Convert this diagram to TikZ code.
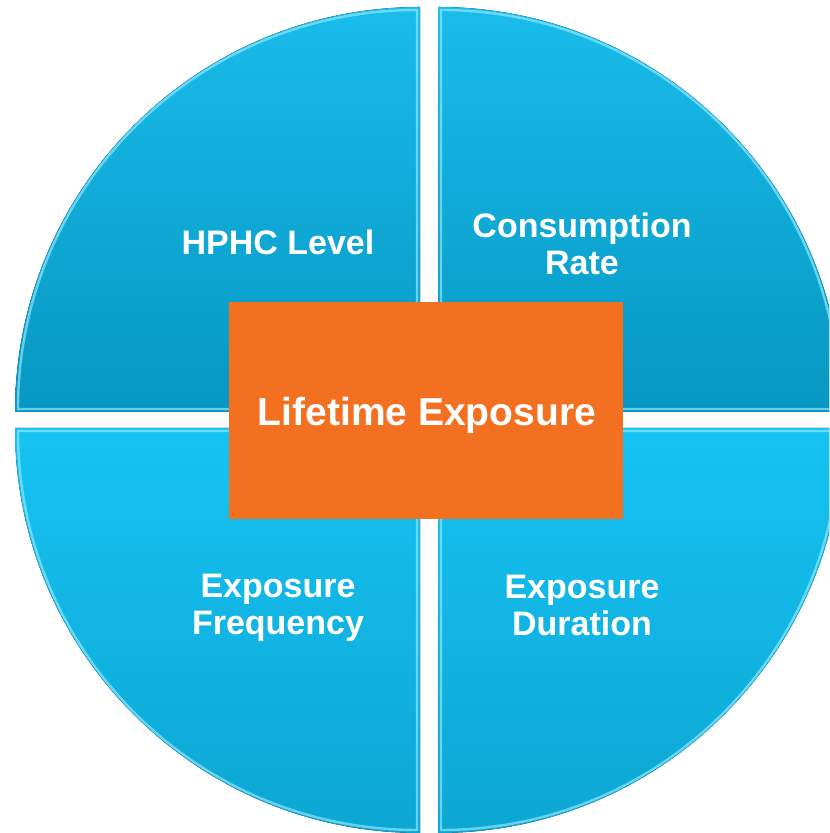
\documentclass[tikz,border=0pt]{standalone}
\usepackage{fontspec}
\setmainfont{Liberation Sans}
\usepackage{tikz}
\usetikzlibrary{shapes}
\usetikzlibrary{backgrounds}

\definecolor{quadtop}{HTML}{19BCEB}
\definecolor{quadbot}{HTML}{0797C2}
\definecolor{lowtop}{HTML}{15C3F3}
\definecolor{lowbot}{HTML}{0DA6D2}
\definecolor{rim}{HTML}{8EE8FB}
\definecolor{lifeorange}{HTML}{F37021}

\tikzset{
  upperquad/.style={top color=quadtop, bottom color=quadbot, draw=none},
  lowerquad/.style={top color=lowtop, bottom color=lowbot, draw=none},
  bevel/.style={draw=rim, line width=1.2pt, opacity=0.7},
  quadlabel/.style={text=white, font=\bfseries\fontsize{17}{18.5}\selectfont, align=center},
  centrebox/.style={fill=lifeorange, minimum width=197pt, minimum height=108.5pt, inner sep=0pt}
}

\begin{document}
\begin{tikzpicture}[x=0.5pt,y=0.5pt]
\useasboundingbox (0,0) rectangle (829,833);
\clip (0,0) rectangle (829,833);
\fill[white] (0,0) rectangle (829,833);

\begin{scope}
\fill[upperquad] (420,421) -- (15,421) arc (180:90:405) -- cycle;
\draw[bevel] (417,424) -- (18,424) arc (180:90:399) -- cycle;
\fill[upperquad] (438,421) -- (438,826) arc (90:0:405) -- cycle;
\draw[bevel] (441,424) -- (441,823) arc (90:0:399) -- cycle;
\fill[lowerquad] (420,405) -- (420,0) arc (270:180:405) -- cycle;
\draw[bevel] (417,402) -- (417,3) arc (270:180:399) -- cycle;
\fill[lowerquad] (438,405) -- (843,405) arc (0:-90:405) -- cycle;
\draw[bevel] (441,402) -- (840,402) arc (0:-90:399) -- cycle;
\end{scope}

\node[quadlabel] (hphc) at (278,591) {HPHC Level};
\node[quadlabel] (rate) at (582,589) {Consumption\\Rate};
\node[quadlabel] (freq) at (278,225) {Exposure\\Frequency};
\node[quadlabel] (dur) at (582,228) {Exposure\\Duration};

\node[centrebox] (life) at (426,422.5) {};
\node[text=white, font=\bfseries\fontsize{19.5}{22}\selectfont] (lifetext) at (427,418) {Lifetime Exposure};
\end{tikzpicture}
\end{document}
